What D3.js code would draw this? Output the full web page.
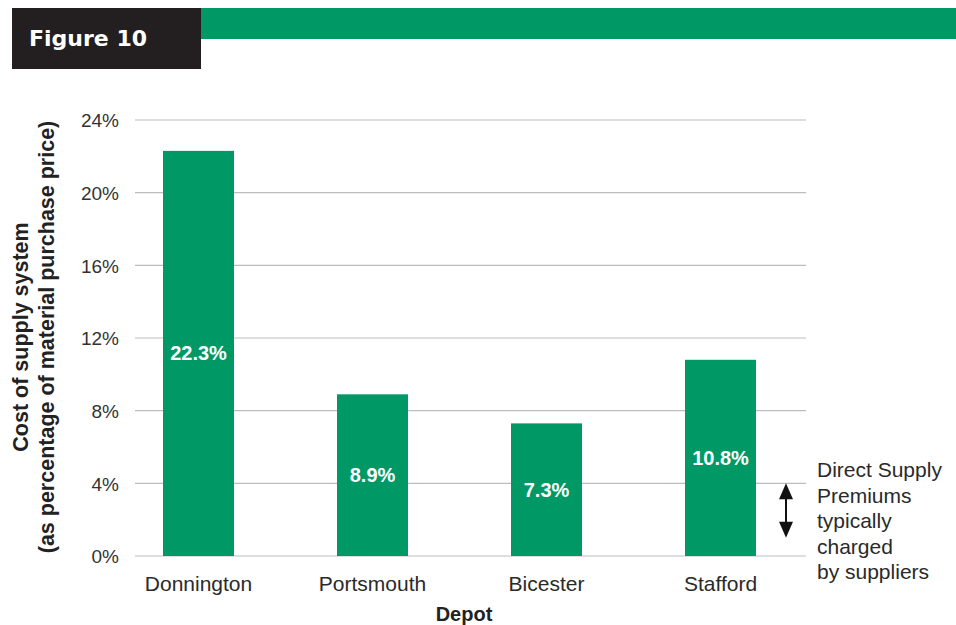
<!DOCTYPE html>
<html><head><meta charset="utf-8">
<script src="https://cdn.jsdelivr.net/npm/d3@7"></script>
<style>body{margin:0;background:#fff}svg{display:block}</style>
</head><body>
<script>
const categories = ["Donnington","Portsmouth","Bicester","Stafford"];
const values = [22.3, 8.9, 7.3, 10.8];
const valueLabels = ["22.3%","8.9%","7.3%","10.8%"];
const yTicks = [0,4,8,12,16,20,24];
const noteLines = ["Direct Supply","Premiums","typically","charged","by suppliers"];
const premiumRange = [1.0, 4.0];

const W=956,H=625, green="#009966";
const svg=d3.select("body").append("svg").attr("width",W).attr("height",H);
const font="'Liberation Sans', Arial, sans-serif";

// header
svg.append("rect").attr("x",201).attr("y",8).attr("width",755).attr("height",31).attr("fill",green);
svg.append("rect").attr("x",12).attr("y",8).attr("width",189).attr("height",61).attr("fill","#231f20");
svg.append("text").attr("x",29).attr("y",46).attr("fill","#fff").attr("font-family","'DejaVu Sans', Arial, sans-serif")
  .attr("font-weight","bold").attr("font-size",22).text("Figure 10");

const y=d3.scaleLinear().domain([0,24]).range([556,120]);
const x=d3.scaleBand().domain(categories).range([111.5,807.5]).paddingInner(0.592).paddingOuter(0.296);

// grid
svg.append("g").selectAll("line").data(yTicks).join("line")
  .attr("x1",135).attr("x2",806).attr("y1",d=>y(d)).attr("y2",d=>y(d))
  .attr("stroke","#bdbdbd").attr("stroke-width",1.2);

const yAxis=d3.axisLeft(y).tickValues(yTicks).tickFormat(d=>d+"%").tickSize(0).tickPadding(0);
const ga=svg.append("g").attr("transform","translate(119,0)").call(yAxis);
ga.select(".domain").remove();
ga.selectAll("text").attr("font-family",font).attr("font-size",19).attr("fill","#333").attr("dy","0.36em");

// bars
svg.append("g").selectAll("rect").data(values).join("rect")
  .attr("x",(d,i)=>x(categories[i])).attr("width",x.bandwidth())
  .attr("y",d=>y(d)).attr("height",d=>y(0)-y(d)).attr("fill",green);

svg.append("g").selectAll("text").data(values).join("text")
  .attr("x",(d,i)=>x(categories[i])+x.bandwidth()/2)
  .attr("y",d=>(y(d)+y(0))/2+7)
  .attr("text-anchor","middle").attr("fill","#fff").attr("font-family",font)
  .attr("font-weight","bold").attr("font-size",20).text((d,i)=>valueLabels[i]);

// x labels
const xAxis=d3.axisBottom(x).tickSize(0).tickPadding(0);
const gx=svg.append("g").attr("transform","translate(0,591)").call(xAxis);
gx.select(".domain").remove();
gx.selectAll("text").attr("font-family",font).attr("font-size",21).attr("fill","#2a2a2a").attr("dy",0);

svg.append("text").attr("x",464).attr("y",621).attr("text-anchor","middle").attr("font-family",font)
  .attr("font-weight","bold").attr("font-size",20).attr("fill","#222").text("Depot");

// y title
const yt=svg.append("text").attr("transform","translate(0,337) rotate(-90)").attr("text-anchor","middle")
  .attr("font-family",font).attr("font-weight","bold").attr("font-size",21.5).attr("fill","#222");
yt.append("tspan").attr("x",0).attr("y",28).text("Cost of supply system");
yt.append("tspan").attr("x",0).attr("y",54).text("(as percentage of material purchase price)");

// annotation arrow
const ax=786, yTop=y(premiumRange[1]), yBot=y(premiumRange[0]);
svg.append("line").attr("x1",ax).attr("x2",ax).attr("y1",yTop+10).attr("y2",yBot-10)
  .attr("stroke","#111").attr("stroke-width",2);
svg.append("path").attr("d",`M${ax},${yTop}L${ax+7},${yTop+16}L${ax-7},${yTop+16}Z`).attr("fill","#111");
svg.append("path").attr("d",`M${ax},${yBot}L${ax+7},${yBot-16}L${ax-7},${yBot-16}Z`).attr("fill","#111");

svg.append("g").selectAll("text").data(noteLines).join("text")
  .attr("x",817).attr("y",(d,i)=>477+i*25.5).attr("font-family",font).attr("font-size",21).attr("fill","#2a2a2a")
  .text(d=>d);
</script>
</body></html>
